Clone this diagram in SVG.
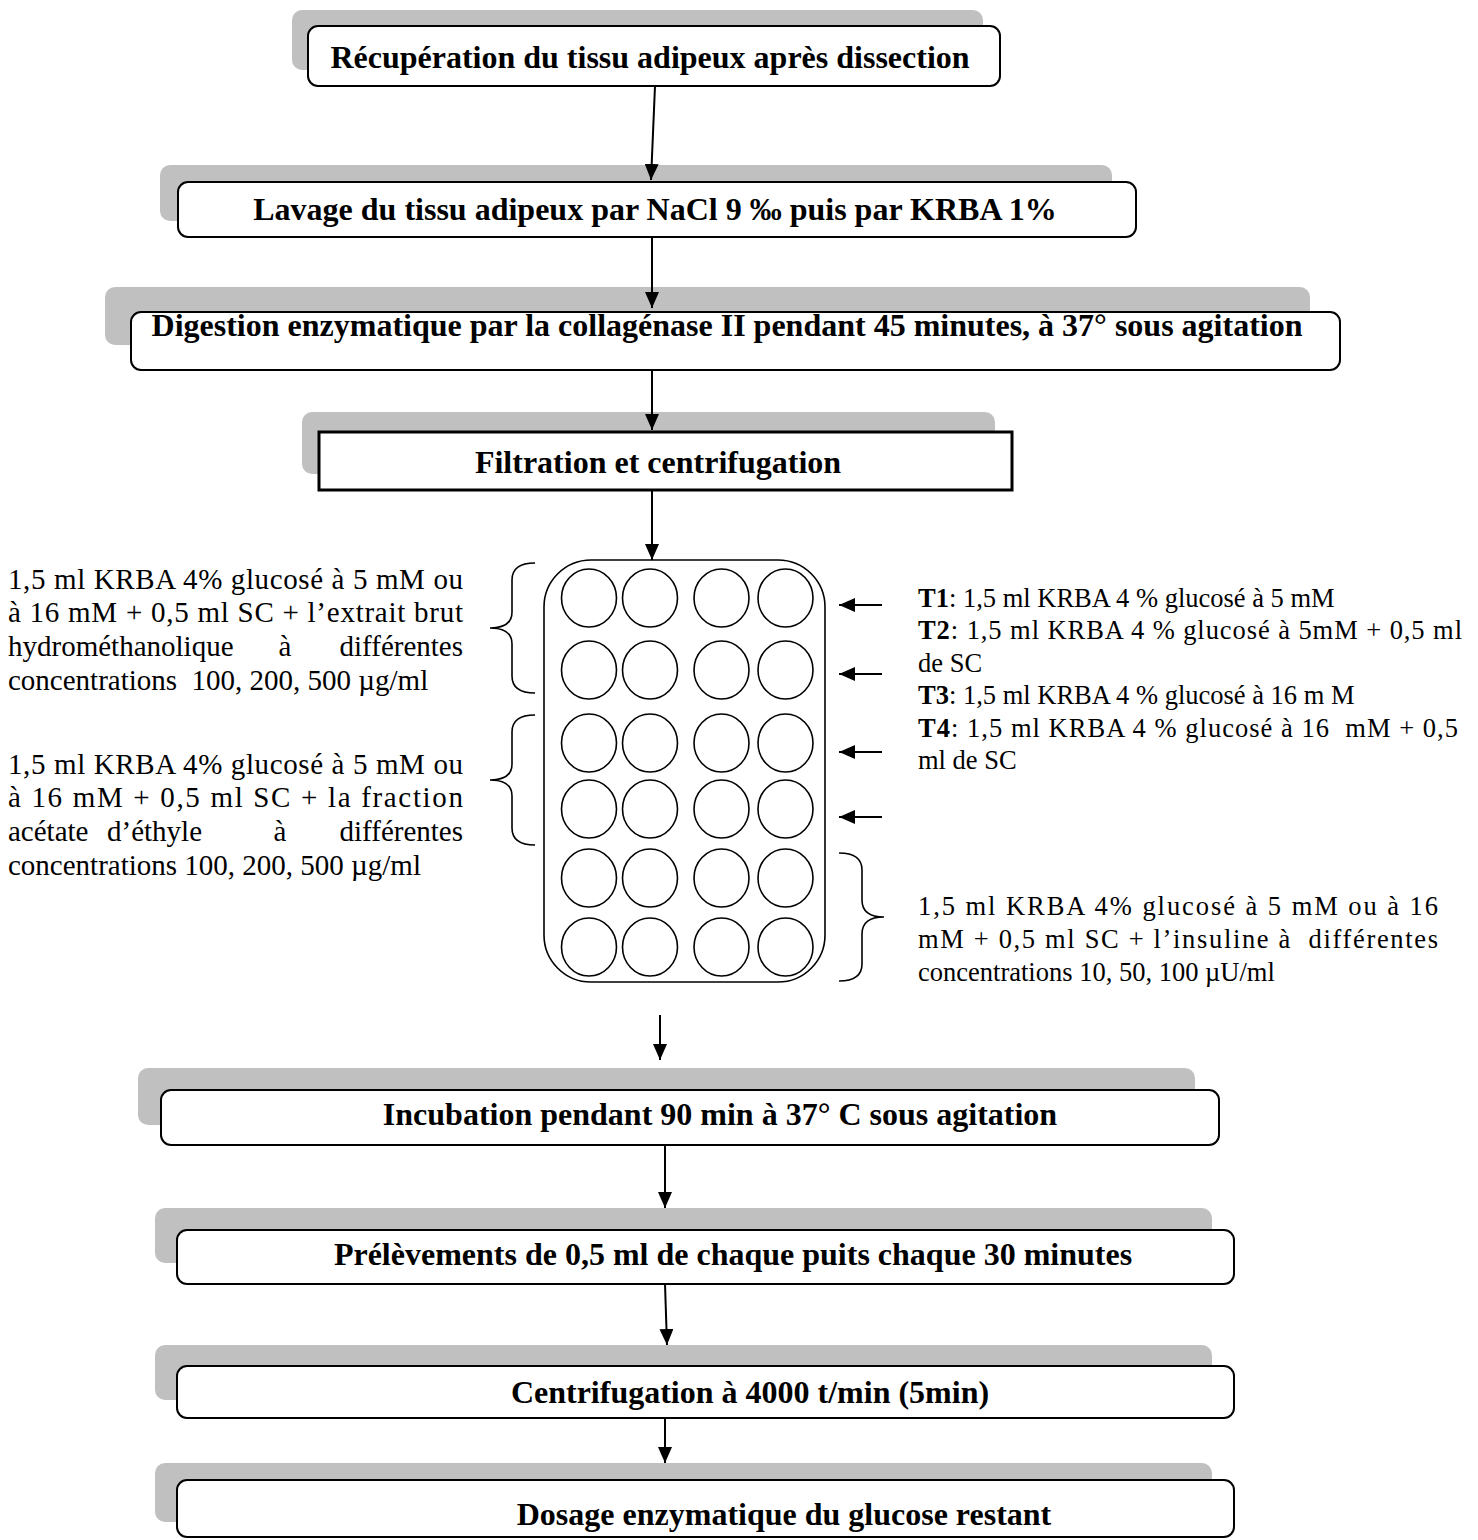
<svg xmlns="http://www.w3.org/2000/svg" width="1478" height="1540" viewBox="0 0 1478 1540">
<style>
.shadow{fill:#c0c0c0}
.box{fill:#fff;stroke:#000;stroke-width:2}
.sq{fill:#fff;stroke:#000;stroke-width:3}
.bt{font-family:"Liberation Serif",serif;font-weight:bold;font-size:32px;text-anchor:middle;fill:#000}
.t{font-family:"Liberation Serif",serif;font-size:29px;fill:#000}
.r{font-family:"Liberation Serif",serif;font-size:26.5px;fill:#000}
.e{text-anchor:end}
.m{text-anchor:middle}
.b{font-weight:bold}
.conn line{stroke:#000;stroke-width:2;fill:none}
.brace{fill:none;stroke:#000;stroke-width:1.6}
.well{fill:#fff;stroke:#000;stroke-width:1.6}
</style>
<defs>
<marker id="ah" markerUnits="userSpaceOnUse" markerWidth="16" markerHeight="14" refX="16" refY="7" orient="auto">
<path d="M0,0 L16,7 L0,14 z" fill="#000"/>
</marker>
</defs>
<rect width="1478" height="1540" fill="#fff"/>

<g id="n1">
<rect class="shadow" x="292" y="10" width="691" height="60" rx="10"/>
<rect class="box" x="308" y="26" width="692" height="60" rx="10"/>
<text class="bt" x="650" y="68">Récupération du tissu adipeux après dissection</text>
</g>
<g id="n2">
<rect class="shadow" x="160" y="165" width="952" height="56" rx="10"/>
<rect class="box" x="178" y="182" width="958" height="55" rx="10"/>
<text class="bt" x="655" y="220">Lavage du tissu adipeux par NaCl 9 ‰ puis par KRBA 1%</text>
</g>
<g id="n3">
<rect class="shadow" x="105" y="287" width="1205" height="58" rx="10"/>
<rect class="box" x="131" y="312" width="1209" height="58" rx="10"/>
<text class="bt" x="727" y="336">Digestion enzymatique par la collagénase II pendant 45 minutes, à 37° sous agitation</text>
</g>
<g id="n4">
<rect class="shadow" x="302" y="412" width="693" height="62" rx="10"/>
<rect class="sq" x="319" y="432" width="693" height="58"/>
<text class="bt" x="658" y="473">Filtration et centrifugation</text>
</g>

<g id="plate">
<rect x="544" y="560" width="281" height="422" rx="47" fill="#fff" stroke="#000" stroke-width="1.6"/>
<g>
<ellipse class="well" cx="589" cy="598" rx="27.5" ry="29"/>
<ellipse class="well" cx="650" cy="598" rx="27.5" ry="29"/>
<ellipse class="well" cx="721.5" cy="598" rx="27.5" ry="29"/>
<ellipse class="well" cx="785.5" cy="598" rx="27.5" ry="29"/>
<ellipse class="well" cx="589" cy="670" rx="27.5" ry="29"/>
<ellipse class="well" cx="650" cy="670" rx="27.5" ry="29"/>
<ellipse class="well" cx="721.5" cy="670" rx="27.5" ry="29"/>
<ellipse class="well" cx="785.5" cy="670" rx="27.5" ry="29"/>
<ellipse class="well" cx="589" cy="743" rx="27.5" ry="29"/>
<ellipse class="well" cx="650" cy="743" rx="27.5" ry="29"/>
<ellipse class="well" cx="721.5" cy="743" rx="27.5" ry="29"/>
<ellipse class="well" cx="785.5" cy="743" rx="27.5" ry="29"/>
<ellipse class="well" cx="589" cy="809" rx="27.5" ry="29"/>
<ellipse class="well" cx="650" cy="809" rx="27.5" ry="29"/>
<ellipse class="well" cx="721.5" cy="809" rx="27.5" ry="29"/>
<ellipse class="well" cx="785.5" cy="809" rx="27.5" ry="29"/>
<ellipse class="well" cx="589" cy="878" rx="27.5" ry="29"/>
<ellipse class="well" cx="650" cy="878" rx="27.5" ry="29"/>
<ellipse class="well" cx="721.5" cy="878" rx="27.5" ry="29"/>
<ellipse class="well" cx="785.5" cy="878" rx="27.5" ry="29"/>
<ellipse class="well" cx="589" cy="947" rx="27.5" ry="29"/>
<ellipse class="well" cx="650" cy="947" rx="27.5" ry="29"/>
<ellipse class="well" cx="721.5" cy="947" rx="27.5" ry="29"/>
<ellipse class="well" cx="785.5" cy="947" rx="27.5" ry="29"/>
</g>
</g>

<g id="left-notes">
<path class="brace" d="M535,563 Q512,563 512,580 L512,612 Q512,628 490,628 Q512,628 512,644 L512,676 Q512,693 535,693"/>
<path class="brace" d="M535,715 Q512,715 512,732 L512,764 Q512,780 490,780 Q512,780 512,796 L512,828 Q512,845 535,845"/>
<text class="t" x="8" y="589" textLength="455" lengthAdjust="spacing">1,5 ml KRBA 4% glucosé à 5 mM ou</text>
<text class="t" x="8" y="622" textLength="455" lengthAdjust="spacing">à 16 mM + 0,5 ml SC + l’extrait brut</text>
<text class="t" x="8" y="656">hydrométhanolique</text>
<text class="t m" x="285" y="656">à</text>
<text class="t e" x="463" y="656">différentes</text>
<text class="t" x="8" y="690" xml:space="preserve">concentrations  100, 200, 500 µg/ml</text>
<text class="t" x="8" y="774" textLength="455" lengthAdjust="spacing">1,5 ml KRBA 4% glucosé à 5 mM ou</text>
<text class="t" x="8" y="807" textLength="455" lengthAdjust="spacing">à 16 mM + 0,5 ml SC + la fraction</text>
<text class="t" x="8" y="841">acétate</text>
<text class="t" x="107" y="841">d’éthyle</text>
<text class="t m" x="280" y="841">à</text>
<text class="t e" x="463" y="841">différentes</text>
<text class="t" x="8" y="875">concentrations 100, 200, 500 µg/ml</text>
</g>

<g id="right-notes">
<text class="r" x="918" y="607"><tspan class="b">T1</tspan>: 1,5 ml KRBA 4 % glucosé à 5 mM</text>
<text class="r" x="918" y="639" textLength="544" lengthAdjust="spacing"><tspan class="b">T2</tspan>: 1,5 ml KRBA 4 % glucosé à 5mM + 0,5 ml</text>
<text class="r" x="918" y="672">de SC</text>
<text class="r" x="918" y="704"><tspan class="b">T3</tspan>: 1,5 ml KRBA 4 % glucosé à 16 m M</text>
<text class="r" x="918" y="737" textLength="540" lengthAdjust="spacing" xml:space="preserve"><tspan class="b">T4</tspan>: 1,5 ml KRBA 4 % glucosé à 16  mM + 0,5</text>
<text class="r" x="918" y="769">ml de SC</text>
</g>

<g id="bottom-right-note">
<path class="brace" d="M839,853 Q862,853 862,870 L862,900 Q862,917 884,917 Q862,917 862,934 L862,964 Q862,981 839,981"/>
<text class="r" x="918" y="915" textLength="520" lengthAdjust="spacing">1,5 ml KRBA 4% glucosé à 5 mM ou à 16</text>
<text class="r" x="918" y="948" textLength="520" lengthAdjust="spacing" xml:space="preserve">mM + 0,5 ml SC + l’insuline à  différentes</text>
<text class="r" x="918" y="981">concentrations 10, 50, 100 µU/ml</text>
</g>

<g id="n5">
<rect class="shadow" x="138" y="1068" width="1057" height="57" rx="10"/>
<rect class="box" x="161" y="1090" width="1058" height="55" rx="10"/>
<text class="bt" x="720" y="1125">Incubation pendant 90 min à 37° C sous agitation</text>
</g>
<g id="n6">
<rect class="shadow" x="155" y="1208" width="1057" height="55" rx="10"/>
<rect class="box" x="177" y="1230" width="1057" height="54" rx="10"/>
<text class="bt" x="733" y="1265">Prélèvements de 0,5 ml de chaque puits chaque 30 minutes</text>
</g>
<g id="n7">
<rect class="shadow" x="155" y="1345" width="1057" height="55" rx="10"/>
<rect class="box" x="177" y="1366" width="1057" height="52" rx="10"/>
<text class="bt" x="750" y="1403">Centrifugation à 4000 t/min (5min)</text>
</g>
<g id="n8">
<rect class="shadow" x="155" y="1463" width="1057" height="59" rx="10"/>
<rect class="box" x="177" y="1480" width="1057" height="57" rx="10"/>
<text class="bt" x="784" y="1525">Dosage enzymatique du glucose restant</text>
</g>

<g class="conn" id="connectors">
<line x1="655" y1="86" x2="651" y2="180" marker-end="url(#ah)"/>
<line x1="652" y1="237" x2="652" y2="308" marker-end="url(#ah)"/>
<line x1="652" y1="370" x2="652" y2="430" marker-end="url(#ah)"/>
<line x1="652" y1="490" x2="652" y2="560" marker-end="url(#ah)"/>
<line x1="882" y1="605" x2="839" y2="605" marker-end="url(#ah)"/>
<line x1="882" y1="674" x2="839" y2="674" marker-end="url(#ah)"/>
<line x1="882" y1="752" x2="839" y2="752" marker-end="url(#ah)"/>
<line x1="882" y1="817" x2="839" y2="817" marker-end="url(#ah)"/>
<line x1="660" y1="1015" x2="660" y2="1060" marker-end="url(#ah)"/>
<line x1="665" y1="1145" x2="665" y2="1208" marker-end="url(#ah)"/>
<line x1="665" y1="1284" x2="667" y2="1345" marker-end="url(#ah)"/>
<line x1="665" y1="1418" x2="665" y2="1463" marker-end="url(#ah)"/>
</g>
</svg>
